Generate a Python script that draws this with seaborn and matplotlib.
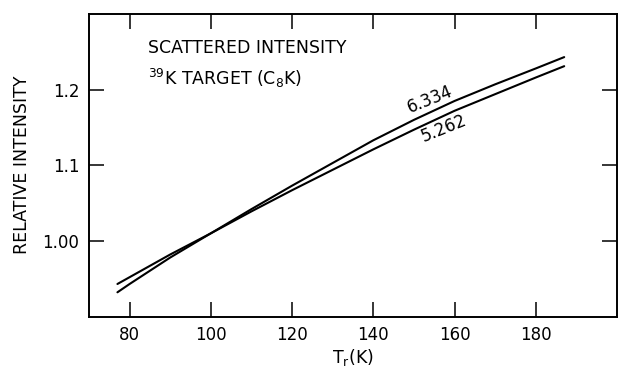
import numpy as np
import pandas as pd
import matplotlib
matplotlib.use("Agg")
import matplotlib.pyplot as plt
import seaborn as sns

# Data
temps = [77, 80, 90, 100, 110, 120, 130, 140, 150, 160, 170, 180, 187]
intensity_6334 = [0.932, 0.943, 0.978, 1.010, 1.042, 1.073, 1.103, 1.133, 1.160, 1.185, 1.207, 1.228, 1.243]
intensity_5262 = [0.943, 0.952, 0.982, 1.010, 1.039, 1.067, 1.094, 1.121, 1.147, 1.172, 1.194, 1.216, 1.231]
series_names = ["6.334", "5.262"]
x_ticks = [80, 100, 120, 140, 160, 180]
x_tick_labels = ["80", "100", "120", "140", "160", "180"]
y_ticks = [1.00, 1.1, 1.2]
y_tick_labels = ["1.00", "1.1", "1.2"]

df = pd.DataFrame({
    "T": temps * 2,
    "I": intensity_6334 + intensity_5262,
    "series": [series_names[0]] * len(temps) + [series_names[1]] * len(temps),
})

sns.set_style("ticks")
plt.rcParams['font.family'] = ['DejaVu Sans']
plt.rcParams['text.color'] = 'black'
plt.rcParams['axes.labelcolor'] = 'black'
plt.rcParams['xtick.color'] = 'black'
plt.rcParams['ytick.color'] = 'black'

fig = plt.figure(figsize=(6.19, 3.73), dpi=100)
ax = fig.add_axes([89 / 619, 1 - 316.5 / 373, (617 - 89) / 619, (316.5 - 14) / 373])

sns.lineplot(data=df, x="T", y="I", hue="series", palette=["black", "black"],
             linewidth=1.5, legend=False, ax=ax, sort=True)

ax.set_xlim(70, 200)
ax.set_ylim(0.9, 1.3)
ax.set_xticks(x_ticks)
ax.set_xticklabels(x_tick_labels)
ax.set_yticks(y_ticks)
ax.set_yticklabels(y_tick_labels)
ax.tick_params(direction="in", length=11, width=1.1, top=True, right=True,
               labelsize=12, pad=7, color="black", labelcolor="black")
for s in ax.spines.values():
    s.set_linewidth(1.4)
    s.set_color("black")

ax.set_xlabel(r"T$_\mathregular{r}$(K)", fontsize=12.5, labelpad=2)
ax.set_ylabel("RELATIVE INTENSITY", fontsize=12.5, labelpad=8)

ax.text(148 / 619, 1 - 48 / 373, "SCATTERED INTENSITY", transform=fig.transFigure,
        fontsize=12.5, va="center", ha="left")
ax.text(148 / 619, 1 - 78 / 373, r"$^{\mathregular{39}}$K TARGET (C$_{\mathregular{8}}$K)",
        transform=fig.transFigure, fontsize=12.5, va="center", ha="left")

ax.text(154, 1.187, series_names[0], rotation=22, fontsize=12, ha="center", va="center",
        rotation_mode="anchor")
ax.text(157.4, 1.149, series_names[1], rotation=22, fontsize=12, ha="center", va="center",
        rotation_mode="anchor")

fig.savefig("out.png", dpi=100)
